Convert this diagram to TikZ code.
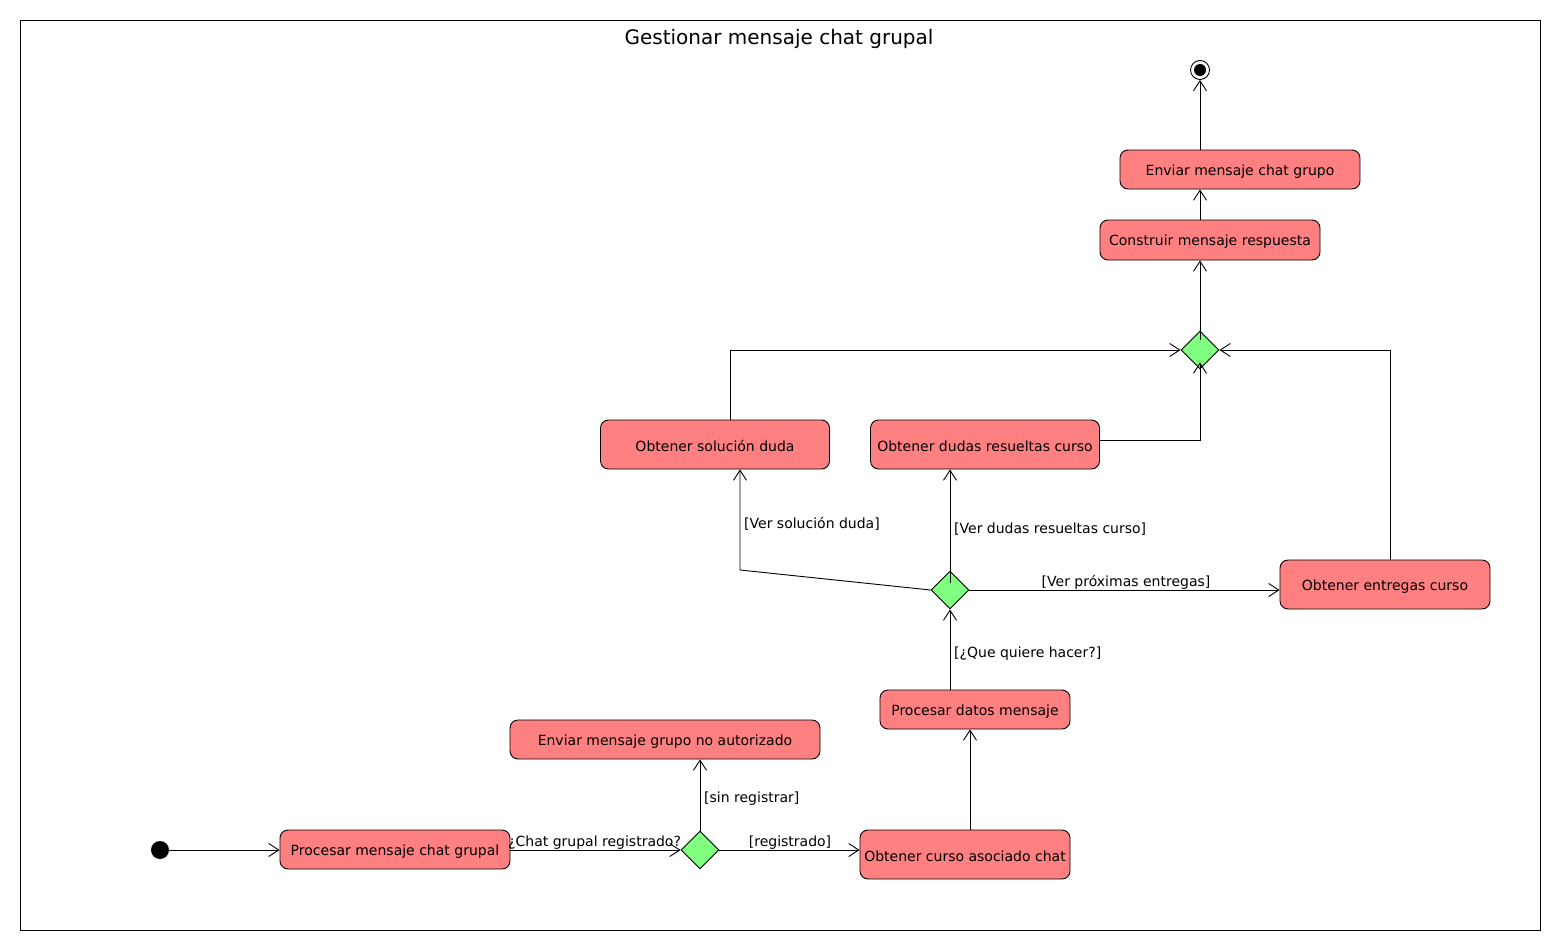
\documentclass[tikz,border=0pt]{standalone}
\usepackage{fontspec}
\setmainfont{DejaVu Sans}
\usetikzlibrary{arrows.meta,shapes.geometric,calc}
\definecolor{actfill}{HTML}{FF8080}
\definecolor{decfill}{HTML}{80FF80}
\newcommand\lowered[1]{\raisebox{-1.8pt}[\height][\depth]{#1}}
\tikzset{
  act/.style={draw, line width=0.9pt, fill=actfill, rounded corners=8pt, inner sep=0pt, font=\fontsize{14}{16}\selectfont},
  dec/.style={draw, line width=0.9pt, fill=decfill, diamond, aspect=1, inner sep=0pt, minimum width=38pt, minimum height=38pt},
  arr/.style={line width=0.9pt, -{Straight Barb[length=10pt,width=13pt,line width=0.9pt]}},
  lbl/.style={inner sep=0pt, font=\fontsize{14}{16}\selectfont},
}
\begin{document}
\begin{tikzpicture}[x=1pt,y=-1pt]
\useasboundingbox (0,0) rectangle (1560,950);
\draw[line width=0.9pt] (20,20) rectangle (1540,930);
\node[font=\fontsize{20}{24}\selectfont, inner sep=0pt] (title) at (779,38.5) {Gestionar mensaje chat grupal};

% nodes
\node[circle, fill=black, inner sep=0pt, minimum size=18pt] (ini) at (160,850) {};
\node[act, minimum width=230pt, minimum height=39pt] (n1) at (395,849.5) {\lowered{Procesar mensaje chat grupal}};
\node[dec] (d1) at (700,850) {};
\node[act, minimum width=210pt, minimum height=49pt] (n2) at (965,854.5) {\lowered{Obtener curso asociado chat}};
\node[act, minimum width=310pt, minimum height=39pt] (n3) at (665,739.5) {\lowered{Enviar mensaje grupo no autorizado}};
\node[act, minimum width=190pt, minimum height=39pt] (n4) at (975,709.5) {\lowered{Procesar datos mensaje}};
\node[dec] (d2) at (950,590) {};
\node[act, minimum width=229pt, minimum height=49pt] (n5) at (715,444.5) {\lowered{Obtener solución duda}};
\node[act, minimum width=229pt, minimum height=49pt] (n6) at (985,444.5) {\lowered{Obtener dudas resueltas curso}};
\node[act, minimum width=210pt, minimum height=49pt] (n7) at (1385,584.5) {\lowered{Obtener entregas curso}};
\node[dec] (m1) at (1200,350) {};
\node[act, minimum width=220pt, minimum height=40pt] (n8) at (1210,240) {\lowered{Construir mensaje respuesta}};
\node[act, minimum width=240pt, minimum height=39pt] (n9) at (1240,169.5) {\lowered{Enviar mensaje chat grupo}};
\node[circle, draw, line width=0.9pt, fill=white, inner sep=0pt, minimum size=19pt] (fin) at (1200,70) {};
\fill (fin.center) circle (6pt);

% helper coordinates
\coordinate (b1) at (740,570);

% connectors
\draw[arr] (ini.east) -- (n1.west |- ini);
\draw[arr] (n1.east |- d1) -- (d1.west);
\draw[arr] (d1.east) -- (n2.west |- d1);
\draw[arr] (d1.north) -- (n3.south -| d1);
\draw[arr] ($(n2.north)+(5,0)$) -- ($(n4.south)+(-5,0)$);
\draw[arr] (n4.north -| d2) -- (d2.south);
\draw[arr] (d2.west) -- (b1) -- (b1 |- n5.south);
\draw[arr] ($(d2.north)+(0,12)$) -- (n6.south -| d2);
\draw[arr] (d2.east) -- (n7.west |- d2);
\draw[arr] ($(n5.north)+(15,0)$) |- (m1.west);
\draw[arr] ($(n6.east)+(0,-4.5)$) -| ($(m1.south)+(0,-7)$);
\draw[arr] ($(n7.north)+(5,0)$) |- (m1.east);
\draw[arr] ($(m1.north)+(0,9)$) -- (n8.south -| m1);
\draw[arr] (n8.north -| m1) -- (n9.south -| m1);
\draw[arr] (n9.north -| m1) -- (fin.south);

% labels
\node[lbl, anchor=west] (l1) at (508,843) {¿Chat grupal registrado?};
\node[lbl] (l2) at (790,843) {[registrado]};
\node[lbl, anchor=west] (l3) at (704,799) {[sin registrar]};
\node[lbl, anchor=west] (l4) at (954,654) {[¿Que quiere hacer?]};
\node[lbl, anchor=west] (l5) at (744,524) {[Ver solución duda]};
\node[lbl, anchor=west] (l6) at (954,529) {[Ver dudas resueltas curso]};
\node[lbl] (l7) at (1126,582) {[Ver próximas entregas]};
\end{tikzpicture}
\end{document}
